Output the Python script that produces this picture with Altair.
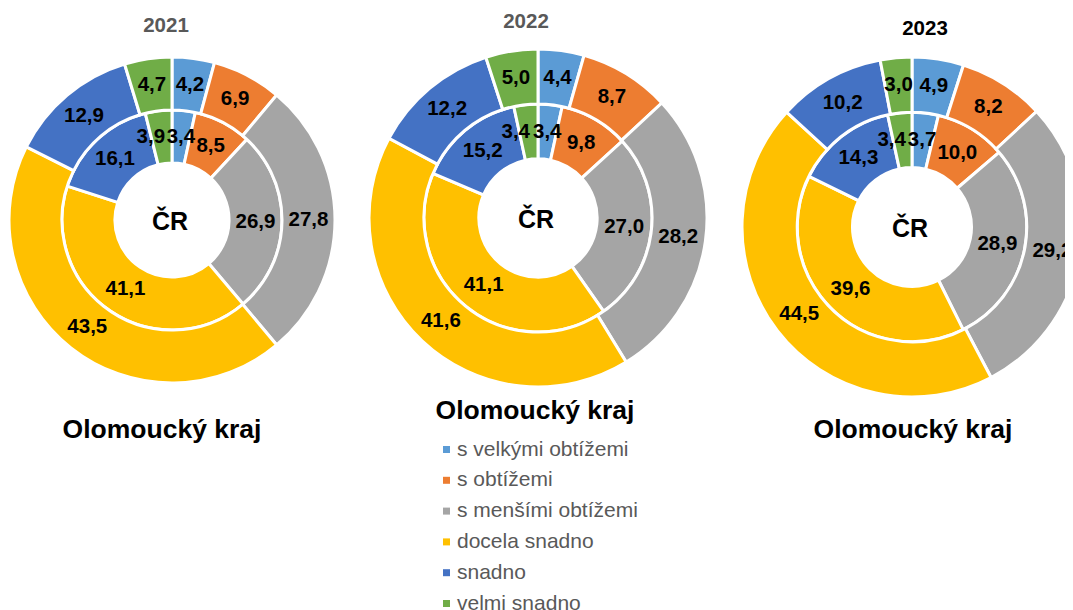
import altair as alt
import pandas as pd

categories = ["s velkými obtížemi", "s obtížemi", "s menšími obtížemi",
              "docela snadno", "snadno", "velmi snadno"]
colors = ["#5B9BD5", "#ED7D31", "#A5A5A5", "#FFC000", "#4472C4", "#70AD47"]

years = ["2021", "2022", "2023"]
cr_2021 = [3.4, 8.5, 26.9, 41.1, 16.1, 3.9]
olo_2021 = [4.2, 6.9, 27.8, 43.5, 12.9, 4.7]
cr_2022 = [3.4, 9.8, 27.0, 41.1, 15.2, 3.4]
olo_2022 = [4.4, 8.7, 28.2, 41.6, 12.2, 5.0]
cr_2023 = [3.7, 10.0, 28.9, 39.6, 14.3, 3.4]
olo_2023 = [4.9, 8.2, 29.2, 44.5, 10.2, 3.0]

center_label = "ČR"
region_label = "Olomoucký kraj"

inner_values = [cr_2021, cr_2022, cr_2023]
outer_values = [olo_2021, olo_2022, olo_2023]

FONT = "Liberation Sans"
LABEL_SIZE = 20.5

# layout (plot coordinates)
panels = [
    dict(cx=164, cy=212, R=163, tx=158, ty=18, tcol="#595959", rx=154, ry=422, nudge=-11),
    dict(cx=530, cy=210, R=169, tx=518, ty=14, tcol="#595959", rx=527, ry=403, nudge=-13),
    dict(cx=904, cy=219, R=170, tx=917, ty=21, tcol="#000000", rx=905, ry=422, nudge=-11),
]

color_scale = alt.Scale(domain=categories, range=colors)
tscale = alt.Scale(domain=[0, 1])


def ring(values, cx, cy, r0, r1, show_legend, nudge_last=0):
    df = pd.DataFrame({"category": categories, "value": values,
                       "idx": list(range(len(categories)))})
    base = alt.Chart(df).transform_joinaggregate(
        total="sum(value)"
    ).transform_calculate(
        frac="datum.value / datum.total",
        label="replace(format(datum.value, '.1f'), '.', ',')",
    ).transform_stack(
        stack="frac", as_=["s", "e"], groupby=[], sort=[alt.SortField("idx")]
    ).transform_calculate(
        mid="(datum.s + datum.e) / 2"
    )
    arc = base.mark_arc(innerRadius=r0, outerRadius=r1, stroke="white",
                        strokeWidth=3).encode(
        theta=alt.Theta("s:Q", scale=tscale),
        theta2="e:Q",
        color=alt.Color("category:N", scale=color_scale,
                        legend=alt.Legend(title=None) if show_legend else None),
        x=alt.value(cx), y=alt.value(cy),
    )
    out = [arc]
    last = len(categories) - 1
    if nudge_last:
        groups = [("datum.idx < %d" % last, 0), ("datum.idx == %d" % last, nudge_last)]
    else:
        groups = [("true", 0)]
    for cond, dx in groups:
        out.append(base.transform_filter(cond).mark_text(
            radius=(r0 + r1) / 2, fontSize=LABEL_SIZE, fontWeight="bold",
            font=FONT, color="black", dx=dx).encode(
            theta=alt.Theta("mid:Q", scale=tscale),
            text="label:N",
            x=alt.value(cx), y=alt.value(cy),
        ))
    return out


layers = []
for i, p in enumerate(panels):
    R = p["R"]
    hole = 0.35 * R
    mid = 0.675 * R
    layers += ring(inner_values[i], p["cx"], p["cy"], hole, mid, i == 0, p["nudge"])
    layers += ring(outer_values[i], p["cx"], p["cy"], mid, R, False)

    layers.append(alt.Chart(pd.DataFrame({"t": [years[i]]})).mark_text(
        font=FONT, fontSize=20.5, fontWeight="bold", color=p["tcol"], baseline="middle"
    ).encode(text="t:N", x=alt.value(p["tx"]), y=alt.value(p["ty"])))

    layers.append(alt.Chart(pd.DataFrame({"t": [center_label]})).mark_text(
        font=FONT, fontSize=25, fontWeight="bold", color="black", baseline="middle"
    ).encode(text="t:N", x=alt.value(p["cx"] - 2), y=alt.value(p["cy"] + 2)))

    layers.append(alt.Chart(pd.DataFrame({"t": [region_label]})).mark_text(
        font=FONT, fontSize=26.5, fontWeight="bold", color="black", baseline="middle"
    ).encode(text="t:N", x=alt.value(p["rx"]), y=alt.value(p["ry"])))

chart = alt.layer(*layers).properties(
    width=1057, height=602, autosize="none", padding=0
).configure_view(stroke=None).configure_legend(
    orient="none", legendX=428, legendY=431, padding=0,
    symbolType="square", symbolSize=49, symbolStrokeWidth=0,
    labelFont=FONT, labelFontSize=21, labelColor="#595959",
    labelOffset=0, rowPadding=8.8, labelLimit=400,
)

chart.save("out.html", embed_options={"renderer": "svg", "actions": False})
